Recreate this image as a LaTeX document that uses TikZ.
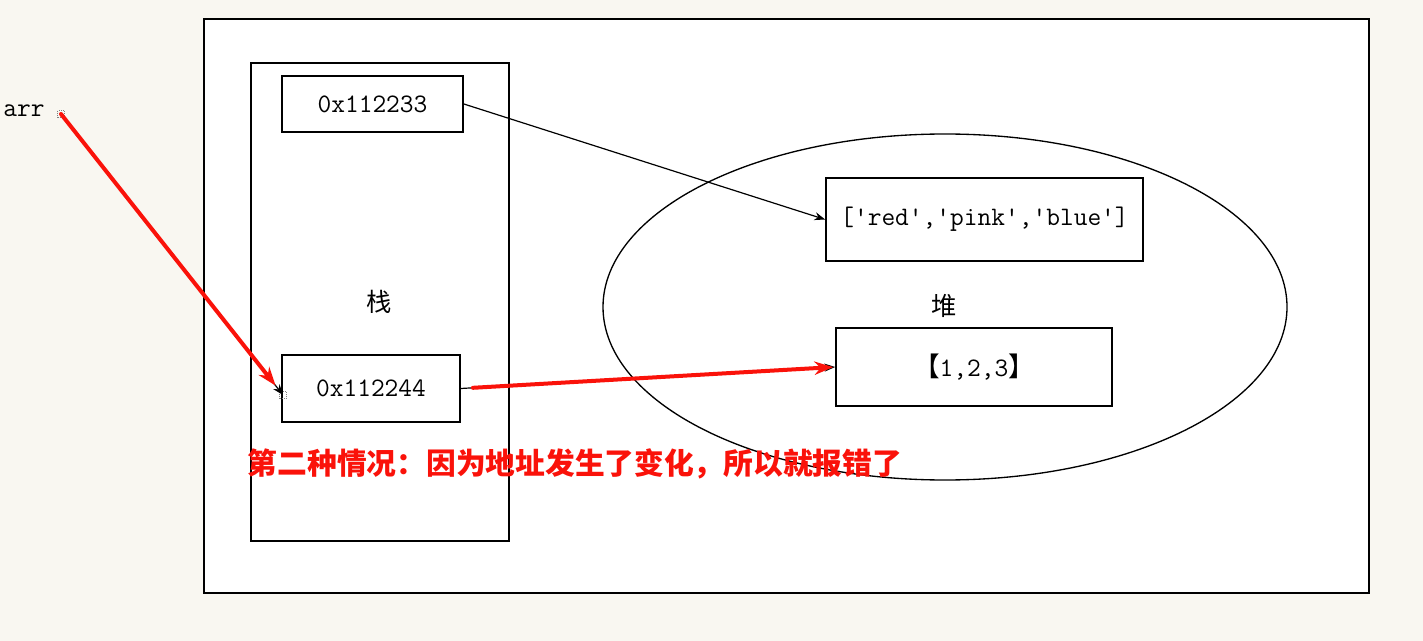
\documentclass[tikz,border=0pt]{standalone}
\usepackage{fontspec}
\newfontfamily\cjk{Noto Sans CJK SC}
\usetikzlibrary{arrows.meta}
\definecolor{paper}{RGB}{249,247,241}
\definecolor{warn}{RGB}{250,18,10}
\tikzset{
	membox/.style={draw,line width=1.3pt,inner sep=0pt,font=\ttfamily\fontsize{20pt}{22pt}\selectfont},
	ptr/.style={line width=0.9pt,-{Stealth[length=8pt,width=6pt]}},
	redptr/.style={warn,line width=3pt,line cap=round,-{Stealth[length=14pt,width=10pt]}},
	handle/.style={draw=gray,densely dotted,line width=0.5pt,inner sep=0pt,minimum size=5pt,rectangle}
}
\begin{document}
\begin{tikzpicture}[x=0.75pt,y=0.75pt,yscale=-1,xscale=1]
	%Shape: page
	\fill [paper] (0,0) rectangle (1423,641);
	\useasboundingbox (0,0) rectangle (1423,641);
	%Shape: Rectangle (outer frame)
	\draw [line width=1.3pt,fill=white] (204,19) rectangle (1369,593);
	%Shape: Rectangle (stack)
	\draw [line width=1.3pt] (251,63) rectangle (509,541);
	%Shape: Ellipse (heap)
	\draw [line width=1pt] (945,307) ellipse [x radius=342,y radius=173];
	
	% Text Node
	\node [membox,minimum width=135.75pt,minimum height=42pt] (addrA) at (372.5,104) {0x112233};
	% Text Node
	\node [membox,minimum width=133.5pt,minimum height=50.25pt] (addrB) at (371,388.5) {0x112244};
	% Text Node
	\node [membox,minimum width=237.75pt,minimum height=62.25pt] (listBox) at (984.5,219.5) {['red','pink','blue']};
	% Text Node
	\node [membox,minimum width=207pt,minimum height=58.5pt] (numBox) at (974,367) {{\cjk 【}1,2,3{\cjk 】}};
	% Text Node
	\node [font=\cjk\fontsize{19pt}{21pt}\selectfont] (stackLbl) at (379,302) {栈};
	% Text Node
	\node [font=\cjk\fontsize{19pt}{21pt}\selectfont] (heapLbl) at (944,306) {堆};
	% Text Node
	\node [font=\ttfamily\fontsize{20pt}{22pt}\selectfont] (arrLbl) at (24,111) {arr};
	% Text Node
	\node [warn,font=\cjk\bfseries\fontsize{22.3pt}{24pt}\selectfont] (note) at (575,464) {第二种情况：因为地址发生了变化，所以就报错了};
	
	\coordinate (arrDot) at (61,114);
	\coordinate (arrIn) at (283,395);
	\node [handle] (dotA) at (arrDot) {};
	\node [handle] (dotB) at (arrIn) {};
	
	%Straight Lines
	\draw [ptr] (addrA.east) -- (listBox.west);
	\draw [ptr] (arrDot) -- (arrIn);
	\draw [ptr] (addrB.east) -- (numBox.west);
	\draw [redptr,shorten >=9pt] (arrDot) -- (arrIn);
	\draw [redptr,shorten <=9pt,shorten >=1.5pt] (addrB.east) -- (numBox.west);
\end{tikzpicture}
\end{document}
